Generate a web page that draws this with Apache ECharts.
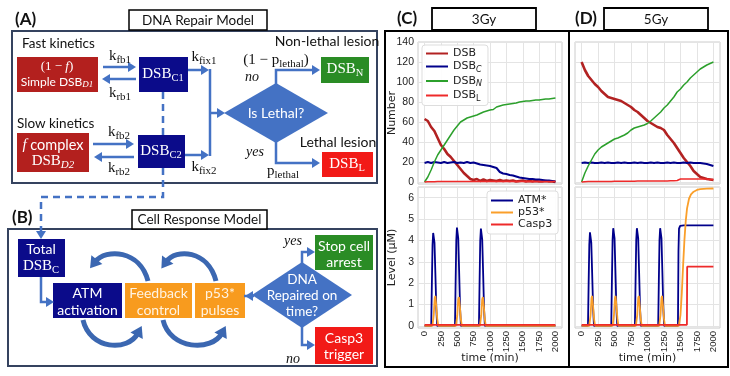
<!DOCTYPE html>
<html><head><meta charset="utf-8">
<script src="https://cdn.jsdelivr.net/npm/echarts@6/dist/echarts.min.js"></script>
<style>html,body{margin:0;padding:0;background:#fff}#c{width:730px;height:376px}</style>
</head><body><div id="c"></div>
<script>
// ---------------- DATA ----------------
const tSteps = [0,50,100,150,200,250,300,350,400,450,500,550,600,650,700,750,800,850,900,950,1000,1050,1100,1150,1200,1250,1300,1350,1400,1450,1500,1550,1600,1650,1700,1750,1800,1850,1900,1950,2000];
const timeTicks = [0,250,500,750,1000,1250,1500,1750,2000];
// 3 Gy
const dsb3  = [63,61,55,51,44,37,33,28,25,21,17,13,9,6,3,2,3,1,2.5,1,2,1.5,1,2,1,1.5,1,1.5,0.5,1,1.5,0.5,1,0.5,1,0.5,0.5,1,0.5,0.5,0];
const dsbC3 = [19,20,19,20,19.5,19,20,19,19.5,20,19,19.5,19,20,19,19.5,18.5,17.5,17,16.5,16,15,14,10,8.5,8,7,6.5,5.5,4.5,4,3.5,3,3,2.5,2.5,2,1.5,1.5,1,0.5];
const dsbN3 = [0,5,12,20,27,32,37,42,47,52,56,60,62,64,65,66,67,68.5,70,71,72,72.5,75,76,77,77.5,78,78.5,79,80,80.5,81,81,81.5,82,82,82.5,83,83,83.5,84];
const dsbL3 = [0,0.2,0.3,0.3,0.4,0.4,0.4,0.5,0.5,0.5,0.5,0.5,0.5,0.5,0.5,0.5,0.5,0.5,0.5,0.5,0.5,0.5,0.5,0.5,0.5,0.5,0.5,0.5,0.5,0.5,0.5,0.5,0.5,0.5,0.5,0.5,0.5,0.5,0.5,0.5,0.5];
// 5 Gy
const dsb5  = [120,112,106,102,98,95,91,88,85,84,83,82,81,79,77,75,72,70,67,64,61,59,57,55,54,52,47,43,39,34,29,24,20,16,11,8,5,4,3,2.5,2];
const dsbC5 = [19,19.5,19,19.5,19,19,19.5,19,19.5,19,19,19.5,19,19.5,19,19,19.5,19,19.5,19,19,19.5,19,19.5,19,19,19.5,19,19.5,19,19,19.5,19,19.5,19,19,19,18.5,18,17,16];
const dsbN5 = [0,9,16,22,28,32,35,37,39,41,43,44,45.5,47,49,52,54,55,56,57,58.5,61,64,67,70,74,77,81,85,90,93,97,100,104,107,110,113,115,117,118.5,120];
const dsbL5 = [0,0.3,0.4,0.4,0.5,0.5,0.5,0.6,0.6,0.6,0.7,0.7,0.7,0.8,0.8,0.8,0.8,0.9,0.9,0.9,1,1,1,1,1.1,1.1,1.1,1.2,1.2,1.5,3,3,3,3,3,3,3,3,3,2.5,2.5];
// levels [time, value]
const atm3 = [[0,0],[102,0],[112,2],[122,3.8],[132,4.35],[142,4.3],[152,3.9],[165,2.5],[180,0.8],[193,0],
  [465,0],[475,2.1],[485,4],[495,4.6],[505,4.55],[515,4.1],[528,2.6],[543,0.8],[556,0],
  [831,0],[841,2.1],[851,4],[861,4.55],[871,4.5],[881,4.05],[894,2.6],[909,0.8],[922,0],[2000,0]];
const p53_3 = [[0,0],[120,0],[140,0.5],[155,1.3],[165,1.4],[180,0.9],[195,0.3],[210,0],
  [480,0],[500,0.5],[515,1.25],[525,1.35],[540,0.9],[555,0.3],[570,0],
  [846,0],[866,0.5],[881,1.25],[891,1.35],[906,0.9],[921,0.3],[936,0],[2000,0]];
const casp3_3 = [[0,0.05],[2000,0.05]];
const atm5 = [[0,0],[97,0],[107,2],[117,3.8],[127,4.38],[137,4.35],[147,3.9],[160,2.5],[175,0.8],[188,0],
  [450,0],[460,2.1],[470,4],[480,4.57],[490,4.52],[500,4.1],[513,2.6],[528,0.8],[541,0],
  [809,0],[819,2.1],[829,4],[839,4.57],[849,4.52],[859,4.1],[872,2.6],[887,0.8],[900,0],
  [1162,0],[1172,2.1],[1182,4],[1192,4.57],[1202,4.52],[1212,4.1],[1225,2.6],[1240,0.8],[1253,0],
  [1462,0],[1470,3.5],[1478,4.55],[1495,4.68],[1550,4.7],[2000,4.7]];
const p53_5 = [[0,0],[116,0],[136,0.5],[151,1.3],[160,1.4],[175,0.9],[190,0.3],[205,0],
  [471,0],[491,0.5],[506,1.3],[515,1.4],[530,0.9],[545,0.3],[560,0],
  [824,0],[844,0.5],[859,1.3],[868,1.4],[883,0.9],[898,0.3],[913,0],
  [1177,0],[1197,0.5],[1212,1.3],[1221,1.4],[1236,0.9],[1251,0.3],[1266,0],
  [1475,0],[1500,0.5],[1520,1.5],[1540,2.8],[1560,4],[1580,4.9],[1600,5.5],[1630,5.95],[1660,6.15],[1700,6.28],[1750,6.36],[1800,6.4],[1900,6.42],[2000,6.43]];
const casp3_5 = [[0,0.05],[1598,0.05],[1602,2.77],[2000,2.77]];

const dsbNames = ['DSB','DSB_C','DSB_N','DSB_L'];
const lvlNames = ['ATM*','p53*','Casp3'];

// ---------------- STYLE ----------------
const SANS = 'Lato', SERIF = 'Liberation Serif', CH = 'DejaVu Sans';
const BLUE = '#4472c4', CURVE = '#3b67b1', NAVY = '#0b0b8a', DRED = '#b3201e', GREEN = '#2a8c25', RED = '#f21a17', ORANGE = '#f89b1e';
const cDSB = '#b22222', cC = '#00008b', cN = '#2ca02c', cL = '#ee2a2a', cATM = '#00008b', cP53 = '#fa9f2a', cCasp = '#ee2a2a';

function T(x, y, text, st) {
  return {type:'text', x, y, z: 30, silent: true, style: Object.assign({text, fill:'#111', fontSize:13.5, fontFamily:SANS, align:'center', verticalAlign:'middle'}, st || {})};
}
function M(x, y, main, sub, tail, size, subSize, color, subItalic, mainFont) {
  const txt = '{m|' + main + '}{s|' + sub + '}' + (tail ? '{m|' + tail + '}' : '');
  return {type:'text', x, y, z: 30, silent:true, style:{text: txt, align:'center', verticalAlign:'middle',
    rich:{ m:{fontSize:size, fontFamily: mainFont || SERIF, fill:color, lineHeight: size*1.25},
           s:{fontSize:subSize, fontFamily:SERIF, fill:color, fontStyle: subItalic ? 'italic':'normal', verticalAlign:'bottom'} }}};
}
function R(x, y, w, h, fill, stroke, lw) {
  return {type:'rect', z: 10, silent:true, shape:{x, y, width:w, height:h}, style:{fill: fill || 'none', stroke: stroke || null, lineWidth: lw || 0}};
}
function PL(points, color, lw, dash) {
  return {type:'polyline', z: 12, silent:true, shape:{points}, style:{stroke: color || BLUE, lineWidth: lw || 2.5, fill: null, lineDash: dash || null}};
}
function HEAD(tx, ty, ang, size, half, color) {
  const c = Math.cos(ang), s = Math.sin(ang);
  const bx = tx - size*c, by = ty - size*s;
  return {type:'polygon', z: 13, silent:true, shape:{points:[[tx,ty],[bx - half*s, by + half*c],[bx + half*s, by - half*c]]}, style:{fill: color || BLUE}};
}
function ARROW(points, size, half, color, lw) {
  const n = points.length, a = points[n-2], b = points[n-1];
  const ang = Math.atan2(b[1]-a[1], b[0]-a[0]);
  const pts = points.slice(0, n-1).concat([[b[0] - size*0.8*Math.cos(ang), b[1] - size*0.8*Math.sin(ang)]]);
  return [PL(pts, color, lw), HEAD(b[0], b[1], ang, size, half, color)];
}
function CURVED(x1,y1,cx1,cy1,cx2,cy2,x2,y2) {
  const ang = Math.atan2(y2-cy2, x2-cx2);
  return [{type:'bezierCurve', z: 12, silent:true, shape:{x1,y1,cpx1:cx1,cpy1:cy1,cpx2:cx2,cpy2:cy2,x2,y2}, style:{stroke:CURVE, lineWidth:5, fill:null}},
          HEAD(x2 + 8*Math.cos(ang), y2 + 8*Math.sin(ang), ang, 11, 7, CURVE)];
}
function DIAMOND(cx, cy, hw, hh, color) {
  return {type:'polygon', z: 10, silent:true, shape:{points:[[cx-hw,cy],[cx,cy-hh],[cx+hw,cy],[cx,cy+hh]]}, style:{fill: color}};
}

const W = '#ffffff', FRAME = '#35435f';
let G = [];
// ---- Panel A ----
G.push(R(12, 31, 365, 152, 'none', FRAME, 2));
G.push(T(15, 20, '(A)', {align:'left', fontWeight:'bold', fontSize:17}));
G.push(R(129, 10, 138, 20, W, '#000', 1.5));
G.push(T(198, 20.5, 'DNA Repair Model', {fontSize:13.5}));
G.push(T(22, 44, 'Fast kinetics', {align:'left', fontSize:13.5}));
G.push(R(17, 57, 81, 35, DRED));
G.push({type:'text', x:57, y:67, z:30, silent:true, style:{text:'{m|(1 − }{i|f}{m|)}', align:'center', verticalAlign:'middle',
  rich:{m:{fontSize:13, fontFamily:SERIF, fill:W}, i:{fontSize:13, fontFamily:SERIF, fontStyle:'italic', fill:W}}}});
G.push(M(57, 82, 'Simple DSB', 'D1', '', 12, 9, W, true, SANS));
G.push(...ARROW([[103,67],[136,67]], 8, 5));
G.push(...ARROW([[136,79],[102,79]], 8, 5));
G.push(M(120, 56, 'k', 'fb1', '', 15, 11, '#111', false));
G.push(M(120, 93, 'k', 'rb1', '', 15, 11, '#111', false));
G.push(R(139, 57, 49, 35, NAVY));
G.push(M(163, 74, 'DSB', 'C1', '', 15, 10.5, W, false));
G.push(M(204, 57, 'k', 'fix1', '', 15, 11, '#111', false));
G.push(...ARROW([[188,70],[209,70]], 8, 5));
G.push(PL([[210,69],[210,156]]));
G.push(...ARROW([[185,155],[209,155]], 8, 5));
G.push(...ARROW([[210,113],[225,113]], 8, 5));
// dashed connector
G.push(PL([[163,92],[163,135]], BLUE, 2.5, [7,5]));
G.push(PL([[163,168],[163,197],[41,197],[41,231]], BLUE, 2.5, [7,5]));
G.push(HEAD(41, 239, Math.PI/2, 8, 5));
G.push(T(17, 124, 'Slow kinetics', {align:'left', fontSize:13.5}));
G.push(R(17, 133, 72, 39, DRED));
G.push({type:'text', x:53, y:145, z:30, silent:true, style:{text:'{i|f}{m| complex}', align:'center', verticalAlign:'middle',
  rich:{m:{fontSize:14.5, fontFamily:SANS, fill:W}, i:{fontSize:15, fontFamily:SERIF, fontStyle:'italic', fill:W}}}});
G.push(M(53, 161, 'DSB', 'D2', '', 15, 11, W, true));
G.push(...ARROW([[93,144],[134,144]], 8, 5));
G.push(...ARROW([[134,157],[94,157]], 8, 5));
G.push(M(119, 132, 'k', 'fb2', '', 15, 11, '#111', false));
G.push(M(119, 168, 'k', 'rb2', '', 15, 11, '#111', false));
G.push(R(138, 135, 47, 33, NAVY));
G.push(M(161, 151, 'DSB', 'C2', '', 15, 10.5, W, false));
G.push(M(204, 167, 'k', 'fix2', '', 15, 11, '#111', false));
G.push(DIAMOND(276, 113, 52, 30, BLUE));
G.push(T(276, 113, 'Is Lethal?', {fill:W, fontSize:14}));
G.push(M(276, 60, '(1 − p', 'lethal', ')', 15, 11, '#111', false));
G.push(T(252, 77, 'no', {fontFamily:SERIF, fontStyle:'italic', fontSize:14}));
G.push(PL([[276,84],[276,70],[312,70]]));
G.push(HEAD(320, 70, 0, 8, 5));
G.push(R(321, 57, 48, 26, GREEN));
G.push(M(345, 69, 'DSB', 'N', '', 15, 10.5, W, false));
G.push(T(327, 41, 'Non-lethal lesion', {fontSize:14}));
G.push(T(338, 142, 'Lethal lesion', {fontSize:14}));
G.push(R(322, 152, 51, 25, RED));
G.push(M(347, 164, 'DSB', 'L', '', 15, 10.5, W, false));
G.push(T(255, 152, 'yes', {fontFamily:SERIF, fontStyle:'italic', fontSize:14}));
G.push(M(283, 171, 'p', 'lethal', '', 15, 11, '#111', false));
G.push(PL([[276,142],[276,163],[312,163]]));
G.push(HEAD(320, 163, 0, 8, 5));
// ---- Panel B ----
G.push(R(8, 229, 369, 137, 'none', FRAME, 2));
G.push(T(12, 218, '(B)', {align:'left', fontWeight:'bold', fontSize:17}));
G.push(R(132, 210, 135, 19, W, '#000', 1.5));
G.push(T(199.5, 220, 'Cell Response Model', {fontSize:13.5}));
G.push(R(18, 239, 47, 38, NAVY));
G.push(T(41, 249, 'Total', {fill:W, fontSize:14}));
G.push(M(41, 266, 'DSB', 'C', '', 15, 10.5, W, false));
G.push(PL([[41,277],[41,302],[47,302]]));
G.push(HEAD(54, 302, 0, 8, 5));
G.push(R(53, 283, 69, 35, NAVY));
G.push(T(87.5, 293, 'ATM', {fill:W, fontSize:14}));
G.push(T(87.5, 310, 'activation', {fill:W, fontSize:14}));
G.push(R(125, 283, 67, 35, ORANGE));
G.push(T(158.5, 293, 'Feedback', {fill:'#fff3e2', fontSize:14}));
G.push(T(158.5, 310, 'control', {fill:'#fff3e2', fontSize:14}));
G.push(R(195, 283, 50, 35, ORANGE));
G.push(T(220, 293, 'p53*', {fill:'#fff3e2', fontSize:14}));
G.push(T(220, 310, 'pulses', {fill:'#fff3e2', fontSize:14}));
G.push(HEAD(245, 296, Math.PI, 8, 5));
G.push(PL([[244,296],[254,296]]));
G.push(DIAMOND(302, 295, 50, 33, BLUE));
G.push(T(302, 280, 'DNA', {fill:W, fontSize:13.5}));
G.push(T(302, 296, 'Repaired on', {fill:W, fontSize:13.5}));
G.push(T(302, 312, 'time?', {fill:W, fontSize:13.5}));
G.push(T(293, 241, 'yes', {fontFamily:SERIF, fontStyle:'italic', fontSize:14}));
G.push(PL([[302,263],[302,252],[308,252]]));
G.push(HEAD(315, 252, 0, 8, 5));
G.push(R(315, 235, 58, 35, GREEN));
G.push(T(344, 246, 'Stop cell', {fill:W, fontSize:14}));
G.push(T(344, 262, 'arrest', {fill:W, fontSize:14}));
G.push(R(315, 327, 58, 37, RED));
G.push(T(344, 338, 'Casp3', {fill:W, fontSize:14}));
G.push(T(344, 354, 'trigger', {fill:W, fontSize:14}));
G.push(T(293, 359, 'no', {fontFamily:SERIF, fontStyle:'italic', fontSize:14}));
G.push(PL([[302,327],[302,345],[308,345]]));
G.push(HEAD(315, 345, 0, 8, 5));
G.push(...CURVED(148,281, 140,250, 106,248, 95,262));
G.push(...CURVED(216,281, 208,250, 176,248, 166,262));
G.push(...CURVED(83,320, 90,350, 128,352, 138,333));
G.push(...CURVED(163,320, 170,350, 212,352, 222,333));
// ---- Panels C / D frames ----
G.push(R(385, 31, 343, 336, 'none', '#000', 2));
G.push({type:'line', z:12, silent:true, shape:{x1:569, y1:31, x2:569, y2:367}, style:{stroke:'#000', lineWidth:2}});
G.push(T(397, 19, '(C)', {align:'left', fontWeight:'bold', fontSize:17}));
G.push(R(432, 8, 104, 22, W, '#000', 1.8));
G.push(T(484, 19.5, '3Gy', {fontSize:13.5}));
G.push(T(575, 19, '(D)', {align:'left', fontWeight:'bold', fontSize:17}));
G.push(R(604, 8, 104, 22, W, '#000', 1.8));
G.push(T(656, 19.5, '5Gy', {fontSize:13.5}));

// ---------------- CHART ----------------
const gridLine = {lineStyle:{color:'#e4e4e4', width:1}};
const dataGrids = [
  {left:418, top:42, width:144, height:142},
  {left:418, top:187, width:144, height:141},
  {left:575, top:42, width:145, height:142},
  {left:575, top:187, width:145, height:141}
];
const overGrids = [
  {left:424.5, top:42, width:131, height:142},
  {left:424.5, top:187, width:131, height:141},
  {left:581.6, top:42, width:131.8, height:142},
  {left:581.6, top:187, width:131.8, height:141}
];
const grids = dataGrids.map(g => Object.assign({show:true, borderColor:'#cccccc', borderWidth:1, backgroundColor:'transparent'}, g))
  .concat(overGrids.map(g => Object.assign({show:false}, g)));

const xAxes = [];
for (let i = 0; i < 4; i++) xAxes.push({type:'value', gridIndex:i, min:-100, max:2100, show:true,
  axisLine:{show:false}, axisTick:{show:false}, axisLabel:{show:false}, splitLine:{show:false}});
for (let i = 0; i < 4; i++) {
  const bottom = (i % 2 === 1);
  xAxes.push({type:'value', gridIndex:4+i, min:timeTicks[0], max:timeTicks[timeTicks.length-1], interval:timeTicks[1]-timeTicks[0],
    axisLine:{show:false}, axisTick:{show:false}, splitLine:gridLine,
    axisLabel:{show:bottom, rotate:90, fontSize:9.5, fontFamily:'Liberation Sans', color:'#222', margin:3, formatter: v => String(v)},
    name: bottom ? 'time (min)' : '', nameLocation:'middle', nameGap:25, nameMoveOverlap:false,
    nameTextStyle:{fontFamily:CH, fontSize:11, color:'#222'}});
}
const yAxes = [];
for (let i = 0; i < 4; i++) {
  const top = (i % 2 === 0), left = i < 2;
  yAxes.push({type:'value', gridIndex:i, min: top ? -2 : -0.1, max: top ? 140 : 6.5, splitNumber: top ? 7 : 6,
    axisLine:{show:false}, axisTick:{show:false}, splitLine:gridLine,
    axisLabel:{show:left, fontSize:10.5, fontFamily:'Liberation Sans', color:'#222', margin:4, showMinLabel:false, showMaxLabel: top ? true : false, formatter: v => String(v)},
    name: left ? (top ? 'Number' : 'Level (μM)') : '', nameLocation:'middle', nameGap:20, nameMoveOverlap:false,
    nameTextStyle:{fontFamily:CH, fontSize:11, color:'#222'}});
}
for (let i = 0; i < 4; i++) yAxes.push({type:'value', gridIndex:4+i, min:0, max:1, show:false});

function pairs(vals) { return tSteps.map((t, i) => [t, vals[i]]); }
function S(name, data, color, width, gi) {
  return {type:'line', name, data, xAxisIndex:gi, yAxisIndex:gi, symbol:'none', animation:false, silent:true,
    lineStyle:{color, width}, itemStyle:{color}};
}
const series = [
  S('DSB', pairs(dsb3), cDSB, 2.6, 0), S('DSB_C', pairs(dsbC3), cC, 2, 0), S('DSB_N', pairs(dsbN3), cN, 1.5, 0), S('DSB_L', pairs(dsbL3), cL, 1.5, 0),
  S('ATM*', atm3, cATM, 1.8, 1), S('p53*', p53_3, cP53, 1.8, 1), S('Casp3', casp3_3, cCasp, 1.8, 1),
  S('DSB', pairs(dsb5), cDSB, 2.6, 2), S('DSB_C', pairs(dsbC5), cC, 2, 2), S('DSB_N', pairs(dsbN5), cN, 1.5, 2), S('DSB_L', pairs(dsbL5), cL, 1.5, 2),
  S('ATM*', atm5, cATM, 1.8, 3), S('p53*', p53_5, cP53, 1.8, 3), S('Casp3', casp3_5, cCasp, 1.8, 3)
];
const subMap = {'DSB_C':'{n|DSB}{si|C}', 'DSB_N':'{n|DSB}{si|N}', 'DSB_L':'{n|DSB}{s|L}'};
const legendText = {fontFamily:CH, fontSize:11, color:'#222',
  rich:{n:{fontFamily:CH, fontSize:11, color:'#222', lineHeight:14},
        s:{fontFamily:CH, fontSize:8, color:'#222', verticalAlign:'bottom'},
        si:{fontFamily:CH, fontSize:8, fontStyle:'italic', color:'#222', verticalAlign:'bottom'}}};
const legendBase = {orient:'vertical', icon:'rect', itemWidth:22, itemHeight:2, itemGap:2, selectedMode:false,
  backgroundColor:'rgba(255,255,255,0.9)', borderColor:'#dddddd', borderWidth:1, borderRadius:3,
  textStyle:legendText, formatter: n => subMap[n] || ('{n|' + n + '}')};

const chart = echarts.init(document.getElementById('c'));
chart.setOption({
  animation:false,
  grid: grids, xAxis: xAxes, yAxis: yAxes, series,
  legend: [
    Object.assign({}, legendBase, {data: dsbNames, left:422, top:45, padding:[3,6,3,4]}),
    Object.assign({}, legendBase, {data: lvlNames, left:487, top:191, itemGap:1, padding:[4,6,4,4]})
  ],
  graphic: {elements: G}
});
</script></body></html>
